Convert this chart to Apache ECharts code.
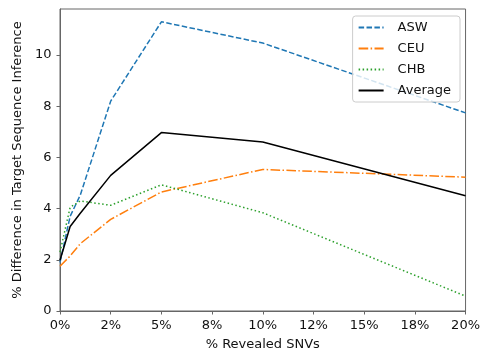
<!DOCTYPE html>
<html>
<head>
<meta charset="utf-8">
<script src="https://cdn.jsdelivr.net/npm/echarts@6/dist/echarts.min.js"></script>
<style>
html,body{margin:0;padding:0;background:#fff;}
#chart{width:483px;height:356px;}
</style>
</head>
<body>
<div id="chart"></div>
<script>
const xValues = [0, 0.5, 1, 2.5, 5, 10, 20];
const asw = [1.9, 3.7, 4.53, 8.2, 11.3, 10.47, 7.74];
const ceu = [1.75, 2.15, 2.63, 3.58, 4.65, 5.53, 5.23];
const chb = [2.3, 4.05, 4.3, 4.13, 4.93, 3.84, 0.58];
const average = [1.98, 3.3, 3.82, 5.3, 6.97, 6.6, 4.5];
const xTickValues = [0, 2.5, 5, 7.5, 10, 12.5, 15, 17.5, 20];
const xTickLabels = ['0%', '2%', '5%', '8%', '10%', '12%', '15%', '18%', '20%'];
const yTickValues = [0, 2, 4, 6, 8, 10];
const seriesNames = ['ASW', 'CEU', 'CHB', 'Average'];

const FONT = 'DejaVu Sans';
const pair = arr => xValues.map((x, i) => [x, arr[i]]);

const chart = echarts.init(document.getElementById('chart'), null, {renderer: 'canvas'});
const mk = (name, data, color, dash) => ({
  name, type: 'line', data: pair(data), symbol: 'none', animation: false,
  lineStyle: {color, width: 1.5, type: dash},
  itemStyle: {color}
});
chart.setOption({
  animation: false,
  backgroundColor: '#fff',
  textStyle: {fontFamily: FONT},
  grid: {left: 60, right: 17, top: 9, bottom: 44, show: true, borderColor: '#666', borderWidth: 1, backgroundColor: 'transparent'},
  xAxis: {
    type: 'value', min: 0, max: 20, interval: 2.5,
    name: '% Revealed SNVs', nameLocation: 'middle', nameGap: 27,
    nameTextStyle: {fontFamily: FONT, fontSize: 13, color: '#111'},
    axisLine: {show: true, lineStyle: {color: '#666', width: 1}},
    axisTick: {show: true, length: 3.5, lineStyle: {color: '#666'}},
    axisLabel: {fontFamily: FONT, fontSize: 13, color: '#111', margin: 8,
      formatter: v => xTickLabels[xTickValues.indexOf(v)] ?? ''},
    splitLine: {show: false}
  },
  yAxis: {
    type: 'value', min: 0, max: 11.8,
    name: '% Difference in Target Sequence Inference', nameLocation: 'middle', nameGap: 31,
    nameTextStyle: {fontFamily: FONT, fontSize: 13, color: '#111'},
    axisLine: {show: true, lineStyle: {color: '#666', width: 1}},
    axisTick: {show: true, length: 3.5, lineStyle: {color: '#666'}, customValues: yTickValues},
    axisLabel: {fontFamily: FONT, fontSize: 13, color: '#111', margin: 8.5, customValues: yTickValues},
    splitLine: {show: false}
  },
  legend: {
    orient: 'vertical', right: 23, top: 16,
    data: seriesNames,
    itemWidth: 25, itemHeight: 14, itemGap: 8,
    padding: [5, 9, 5, 5],
    backgroundColor: 'rgba(255,255,255,0.8)',
    borderColor: '#ccc', borderWidth: 1, borderRadius: 3,
    itemStyle: {opacity: 0},
    textStyle: {fontFamily: FONT, fontSize: 13, color: '#111', padding: [0, 0, 0, 9]}
  },
  series: [
    mk('ASW', asw, '#1f77b4', [5.5, 2.4]),
    mk('CEU', ceu, '#ff7f0e', [9.6, 2.4, 1.5, 2.4]),
    mk('CHB', chb, '#2ca02c', [1.5, 2.5]),
    mk('Average', average, '#000000', 'solid')
  ]
});
</script>
</body>
</html>
